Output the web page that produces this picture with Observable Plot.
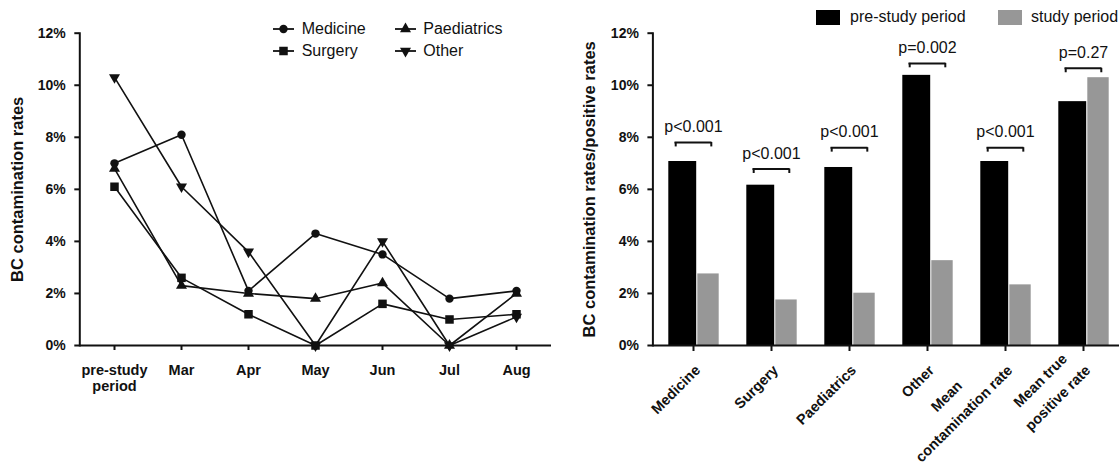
<!DOCTYPE html>
<html><head><meta charset="utf-8">
<script src="https://cdn.jsdelivr.net/npm/d3@7"></script>
<script src="https://cdn.jsdelivr.net/npm/@observablehq/plot@0.6"></script>
<style>
body{margin:0;background:#fff;font-family:"Liberation Sans",Arial,sans-serif;color:#111}
#wrap{position:relative;width:1119px;height:464px;overflow:hidden;background:#fff}
#left{position:absolute;left:0;top:0}
#right{position:absolute;left:560px;top:0}
.leg{position:absolute;font-size:16px;line-height:16px;white-space:nowrap;height:16px}
.leg svg{position:absolute;left:0;top:0;overflow:visible}
.sw{position:absolute;height:15px;width:24px}
</style></head><body><div id="wrap"><div id="left"></div><div id="right"></div></div>
<script>
// ---- Left chart data ----
const months = ["pre-study\nperiod", "Mar", "Apr", "May", "Jun", "Jul", "Aug"];
const medicine    = [7.0, 8.1, 2.1, 4.3, 3.5, 1.8, 2.1];
const surgery     = [6.1, 2.6, 1.2, 0.0, 1.6, 1.0, 1.2];
const paediatrics = [6.8, 2.3, 2.0, 1.8, 2.4, 0.0, 2.0];
const other       = [10.3, 6.1, 3.6, 0.0, 4.0, 0.0, 1.1];
const seriesNames = ["Medicine", "Surgery", "Paediatrics", "Other"];
const leftTitle = "BC contamination rates";

// ---- Right chart data ----
const groups = ["Medicine", "Surgery", "Paediatrics", "Other", "Mean\ncontamination rate", "Mean true\npositive rate"];
const preStudy    = [7.07, 6.16, 6.84, 10.38, 7.07, 9.37];
const studyPeriod = [2.75, 1.75, 2.01, 3.26, 2.33, 10.29];
const pValues     = ["p<0.001", "p<0.001", "p<0.001", "p=0.002", "p<0.001", "p=0.27"];
const bracketLevel = [7.8, 6.78, 7.6, 10.84, 7.6, 10.65];
const periods = ["pre-study period", "study period"];
const rightTitle = "BC contamination rates/positive rates";

const yTicks = [0, 2, 4, 6, 8, 10, 12];

// ---- shared ----
const INK = "#111";
const FONT = "'Liberation Sans', Arial, Helvetica, sans-serif";
const invTriangle = {draw(ctx, size) {
  const y = Math.sqrt(size / (Math.sqrt(3) * 3));
  ctx.moveTo(0, 2 * y); ctx.lineTo(-Math.sqrt(3) * y, -y); ctx.lineTo(Math.sqrt(3) * y, -y); ctx.closePath();
}};
const symbolOf = {Medicine: "circle", Surgery: "square", Paediatrics: "triangle", Other: invTriangle};
const rOf = {Medicine: 4.2, Surgery: 4.8, Paediatrics: 4.1, Other: 4.1};
const valuesOf = {Medicine: medicine, Surgery: surgery, Paediatrics: paediatrics, Other: other};

const lineData = seriesNames.flatMap(s => valuesOf[s].map((v, i) => ({series: s, month: months[i], value: v})));

const left = Plot.plot({
  width: 560, height: 464,
  marginLeft: 79.3, marginRight: 9, marginTop: 32.7, marginBottom: 119,
  style: {fontFamily: FONT, fontWeight: "bold", color: INK, background: "transparent", overflow: "visible"},
  x: {type: "point", domain: months, padding: 0.5},
  y: {domain: [0, 12]},
  marks: [
    Plot.axisY({ticks: yTicks, tickSize: 5, tickPadding: 9, tickFormat: d => d + "%", fontSize: 14, fontWeight: "bold", strokeWidth: 2, label: null}),
    Plot.axisX({tickSize: 5, tickPadding: 13, fontSize: 14.5, fontWeight: "bold", strokeWidth: 2, label: null, lineHeight: 1.1}),
    Plot.frame({anchor: "left", strokeWidth: 2, stroke: INK}),
    Plot.ruleY([0], {strokeWidth: 2, stroke: INK}),
    Plot.line(lineData, {x: "month", y: "value", z: "series", stroke: INK, strokeWidth: 1.6}),
    ...seriesNames.map(s => Plot.dot(lineData.filter(d => d.series === s),
      {x: "month", y: "value", symbol: symbolOf[s], r: rOf[s], fill: INK, stroke: "none"})),
    Plot.text([leftTitle], {frameAnchor: "left", textAnchor: "middle", rotate: -90, dx: -62, fontSize: 16.5, fontWeight: "bold", fill: INK})
  ]
});
document.getElementById("left").appendChild(left);

const barData = groups.map((g, i) => ({group: g, pre: preStudy[i], study: studyPeriod[i], p: pValues[i], level: bracketLevel[i]}));
const step = 78.6;
const right = Plot.plot({
  width: 559, height: 464,
  marginLeft: 92.4, marginRight: 0, marginTop: 32.7, marginBottom: 119,
  style: {fontFamily: FONT, fontWeight: "bold", color: INK, background: "transparent", overflow: "visible"},
  x: {type: "band", domain: groups, range: [92.4, 92.4 + groups.length * step], padding: 0},
  y: {domain: [0, 12]},
  marks: [
    Plot.barY(barData, {x: "group", y: "pre", fill: "#000", insetLeft: 14.3, insetRight: 35.8}),
    Plot.barY(barData, {x: "group", y: "study", fill: "#979797", insetLeft: 43.3, insetRight: 13.3}),
    Plot.axisY({ticks: yTicks, tickSize: 5, tickPadding: 9, tickFormat: d => d + "%", fontSize: 14, fontWeight: "bold", strokeWidth: 2, label: null}),
    Plot.axisX({tickSize: 6, tickFormat: () => "", strokeWidth: 2, label: null}),
    Plot.frame({anchor: "left", strokeWidth: 2, stroke: INK}),
    Plot.ruleY([0], {strokeWidth: 2, stroke: INK}),
    Plot.tickY(barData, {x: "group", y: "level", stroke: INK, strokeWidth: 2, insetLeft: 20.5, insetRight: 20.5}),
    Plot.ruleX(barData, {x: "group", y1: "level", y2: d => d.level - 0.17, stroke: INK, strokeWidth: 2, dx: -17.8}),
    Plot.ruleX(barData, {x: "group", y1: "level", y2: d => d.level - 0.17, stroke: INK, strokeWidth: 2, dx: 17.8}),
    Plot.text(barData, {x: "group", y: "level", text: "p", dy: -10.5, lineAnchor: "bottom", fontSize: 16, fontWeight: "normal", fill: INK}),
    Plot.text(groups, {x: d => d, frameAnchor: "bottom", dx: 2, dy: 20, rotate: -45, textAnchor: "middle", lineAnchor: "middle", fontSize: 14.5, fontWeight: "bold", lineHeight: 1.7, fill: INK}),
    Plot.text([rightTitle], {frameAnchor: "left", textAnchor: "middle", rotate: -90, dx: -63.4, fontSize: 16.5, fontWeight: "bold", fill: INK})
  ]
});
document.getElementById("right").appendChild(right);

// right-align each rotated label block (its lines centred within the block)
right.querySelectorAll("text").forEach(t => {
  const tr = t.getAttribute("transform") || "";
  if (tr.includes("rotate(-45)")) {
    const w = t.getBBox().width;
    const multi = t.querySelectorAll("tspan").length > 1;
    t.setAttribute("transform", tr + ` translate(${-w / 2},${multi ? -12 : 0})`);
  }
});

// ---- legends (HTML text) ----
const wrap = document.getElementById("wrap");
function markerPath(s) {
  const r = rOf[s];
  const t = typeof symbolOf[s] === "string" ? {circle: d3.symbolCircle, square: d3.symbolSquare, triangle: d3.symbolTriangle}[symbolOf[s]] : symbolOf[s];
  return d3.symbol().type(t).size(Math.PI * r * r)();
}
const legPos = {Medicine: [272.7, 20.5], Surgery: [272.7, 43], Paediatrics: [395, 20.5], Other: [395, 43]};
seriesNames.forEach(s => {
  const [x, y] = legPos[s];
  const d = document.createElement("div");
  d.className = "leg";
  d.style.left = x + "px"; d.style.top = y + "px"; d.style.fontWeight = "normal";
  d.innerHTML = `<svg width="22" height="16"><line x1="0" x2="21" y1="8" y2="8" stroke="${INK}" stroke-width="1.8"/><path transform="translate(10.5,8)" d="${markerPath(s)}" fill="${INK}"/></svg><span style="position:absolute;left:${(s === "Medicine" || s === "Surgery") ? 29 : 28.3}px;top:0">${s}</span>`;
  wrap.appendChild(d);
});
const swPos = [[816, 850, "#000"], [998, 1031, "#979797"]];
periods.forEach((p, i) => {
  const [sx, tx, col] = swPos[i];
  const sw = document.createElement("div");
  sw.className = "sw"; sw.style.left = sx + "px"; sw.style.top = "9.5px"; sw.style.background = col;
  wrap.appendChild(sw);
  const t = document.createElement("div");
  t.className = "leg"; t.style.left = tx + "px"; t.style.top = "9px"; t.textContent = p;
  wrap.appendChild(t);
});
</script></body></html>
